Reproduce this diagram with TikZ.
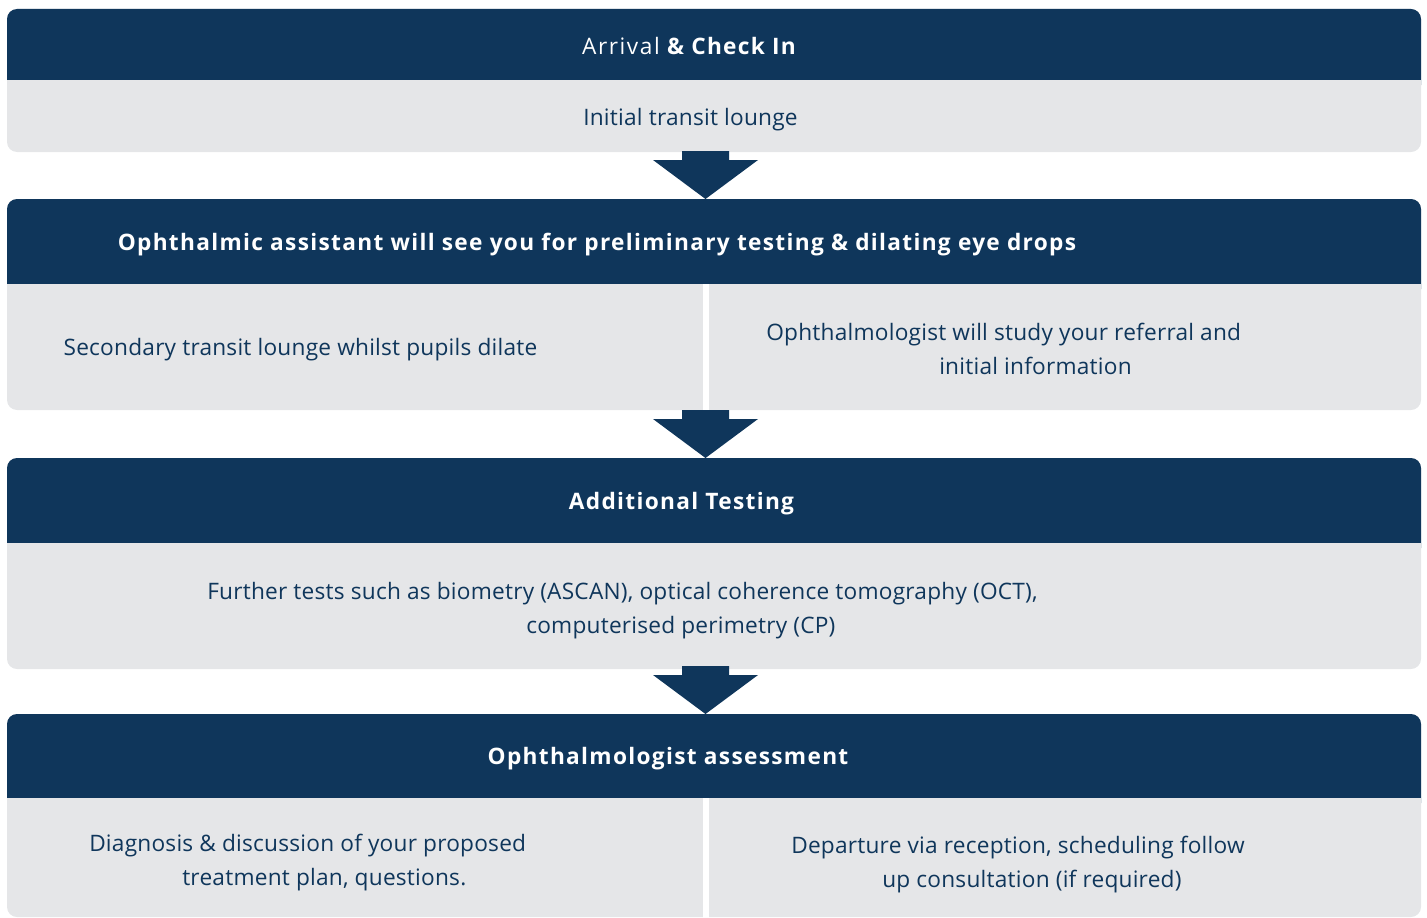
\documentclass[tikz,border=0pt]{standalone}
\usepackage{fontspec}
\setmainfont{Open Sans}
\usetikzlibrary{positioning,calc}
\definecolor{navy}{HTML}{0F365B}
\definecolor{panelgrey}{HTML}{E5E6E8}
\tikzset{
  headtxt/.style={text=white,font=\bfseries\fontsize{17}{25.5}\selectfont\addfontfeature{LetterSpace=5.8},inner sep=0pt,anchor=base},
  bodytxt/.style={text=navy,font=\fontsize{17}{25.5}\selectfont\addfontfeature{LetterSpace=1},inner sep=0pt,anchor=base},
  twoline/.style={bodytxt,align=left,anchor=west}
}
\begin{document}
\begin{tikzpicture}[x=0.75pt,y=-0.75pt]
    \useasboundingbox (0,0) rectangle (1427,917);
    % panels: header bar on top, grey body below
    \foreach \t/\m/\b in {9/80/152,199/284/410,458/543/669,714/798/917}{
        \fill[panelgrey,rounded corners=7.5pt] (7,\t) rectangle (1421,\b);
        \fill[navy,rounded corners=7.5pt] (7,\t) rectangle (1421,\m+15);
        \fill[panelgrey] (7,\m) rectangle (1421,\m+16);
    }
    % split bodies
    \fill[white] (703,284) rectangle (709,411);
    \fill[white] (703,798) rectangle (709,918);
    \node[headtxt] (h1) at (689,55) {{\mdseries\addfontfeature{LetterSpace=7}Arrival} \& Check In};
    \node[bodytxt] (b1) at (690.5,125) {Initial transit lounge};
    \node[headtxt] (h2) at (597,250) {Ophthalmic assistant will see you for preliminary testing \& dilating eye drops};
    \node[bodytxt] (b2l) at (300.5,355) {Secondary transit lounge whilst pupils dilate};
    \node[twoline] (b2r) at (766,349) {Ophthalmologist will study your referral and\\\hspace*{129.75pt}initial information};
    \node[headtxt] (h3) at (681.5,509) {Additional Testing};
    \node[twoline] (b3) at (207,610.5) {Further tests such as biometry (ASCAN), optical coherence tomography (OCT),\\\hspace*{239.25pt}computerised perimetry (CP)};
    \node[headtxt] (h4) at (668,764) {Ophthalmologist assessment};
    \node[twoline] (b4l) at (89,862.5) {Diagnosis \& discussion of your proposed\\\hspace*{69.75pt}treatment plan, questions.};
    \node[twoline] (b4r) at (791,865) {Departure via reception, scheduling follow\\\hspace*{68.25pt}up consultation (if required)};
    % block arrows between the panels
    \coordinate (s1) at (705.5,151);
    \coordinate (t2) at (705.5,199);
    \coordinate (s2) at (705.5,410);
    \coordinate (t3) at (705.5,458);
    \coordinate (s3) at (705.5,666);
    \coordinate (t4) at (705.5,714);
    \foreach \a/\b in {s1/t2,s2/t3,s3/t4}
        \fill[navy] ($(\a)+(-23.5,0)$) -- ($(\a)+(23.5,0)$) -- ($(\a)+(23.5,9)$) -- ($(\a)+(52.5,9)$)
            -- (\b) -- ($(\a)+(-52.5,9)$) -- ($(\a)+(-23.5,9)$) -- cycle;
\end{tikzpicture}
\end{document}
